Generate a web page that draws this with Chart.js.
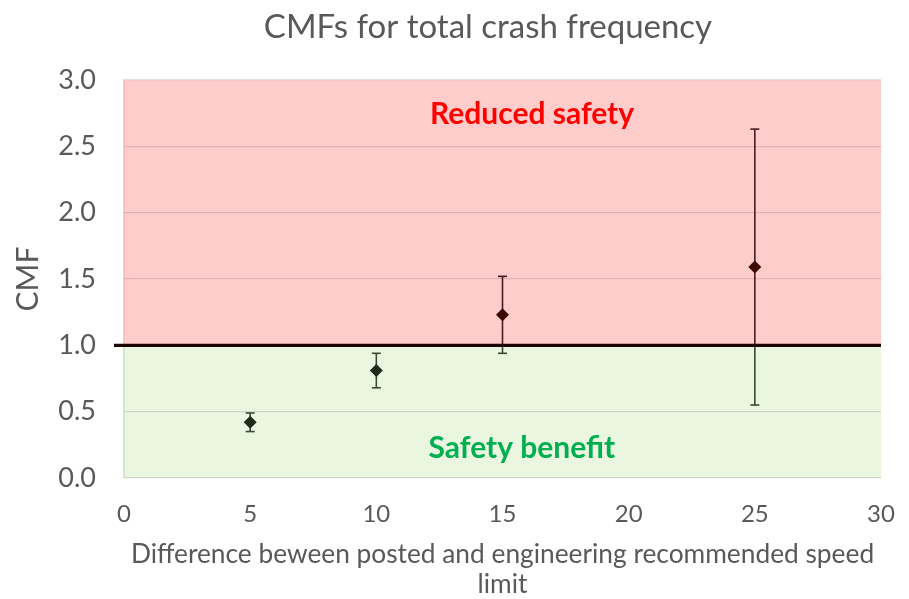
<!DOCTYPE html>
<html>
<head>
<meta charset="utf-8">
<script src="https://cdn.jsdelivr.net/npm/chart.js@4/dist/chart.umd.min.js"></script>
<style>
  html, body { margin: 0; padding: 0; background: #ffffff; }
  #wrap { width: 909px; height: 599px; }
</style>
</head>
<body>
<div id="wrap"><canvas id="c" width="909" height="599"></canvas></div>
<script>
// ---- Data ----
const speedDiff = [5, 10, 15, 25];
const cmfValues = [0.42, 0.81, 1.23, 1.59];
const lowerCI   = [0.35, 0.68, 0.94, 0.55];
const upperCI   = [0.49, 0.94, 1.52, 2.63];
const baselineCMF = 1.0;
const chartTitle = 'CMFs for total crash frequency';
const yTitle = 'CMF';
const xTitle = ['Difference beween posted and engineering recommended speed', 'limit'];
const zoneLabels = ['Reduced safety', 'Safety benefit'];

const FONT = 'Lato, "Open Sans", sans-serif';
const GREY = '#595959';
const UP_COLOR = '#3d0808';
const DOWN_COLOR = '#1f2d18';

const pointColors = cmfValues.map(v => v > baselineCMF ? UP_COLOR : DOWN_COLOR);

const zonesPlugin = {
  id: 'zones',
  beforeDraw(chart) {
    const {ctx, chartArea: a, scales: {y}} = chart;
    const yb = y.getPixelForValue(baselineCMF);
    ctx.save();
    ctx.fillStyle = '#ffcccc';
    ctx.fillRect(a.left, a.top, a.right - a.left, yb - a.top);
    ctx.fillStyle = '#ebf6e0';
    ctx.fillRect(a.left, yb, a.right - a.left, a.bottom - yb);
    ctx.restore();
  },
  beforeDatasetsDraw(chart) {
    const {ctx, chartArea: a, scales: {x, y}} = chart;
    const yb = y.getPixelForValue(baselineCMF);
    ctx.save();
    ctx.lineWidth = 1.6;
    for (let i = 0; i < speedDiff.length; i++) {
      const px = x.getPixelForValue(speedDiff[i]);
      const yl = y.getPixelForValue(lowerCI[i]);
      const yu = y.getPixelForValue(upperCI[i]);
      const segs = [];
      const top = Math.min(yu, yl), bot = Math.max(yu, yl);
      if (top < yb) segs.push([top, Math.min(bot, yb), '#4a1c1c']);
      if (bot > yb) segs.push([Math.max(top, yb), bot, '#3a4a33']);
      segs.forEach(s => {
        ctx.strokeStyle = s[2];
        ctx.beginPath(); ctx.moveTo(px, s[0]); ctx.lineTo(px, s[1]); ctx.stroke();
      });
      [[yu, upperCI[i]], [yl, lowerCI[i]]].forEach(c => {
        ctx.strokeStyle = c[1] > baselineCMF ? '#4a1c1c' : '#3a4a33';
        ctx.beginPath(); ctx.moveTo(px - 4.5, c[0]); ctx.lineTo(px + 4.5, c[0]); ctx.stroke();
      });
    }
    ctx.strokeStyle = '#1a0404';
    ctx.lineWidth = 3.2;
    ctx.beginPath();
    ctx.moveTo(a.left - 10, yb);
    ctx.lineTo(a.right, yb);
    ctx.stroke();
    ctx.restore();
  },
  afterDraw(chart) {
    const {ctx, scales: {x, y}} = chart;
    ctx.save();
    ctx.textAlign = 'center';
    ctx.textBaseline = 'middle';
    ctx.font = 'bold 30px ' + FONT;
    ctx.fillStyle = '#ff0000';
    ctx.fillText(zoneLabels[0], x.getPixelForValue(16.17), y.getPixelForValue(2.745));
    ctx.fillStyle = '#00b050';
    ctx.fillText(zoneLabels[1], x.getPixelForValue(15.77), y.getPixelForValue(0.22));
    ctx.font = '33px ' + FONT;
    ctx.fillStyle = GREY;
    ctx.fillText(chartTitle, 488, 27);
    ctx.restore();
  }
};

new Chart(document.getElementById('c'), {
  type: 'scatter',
  data: {
    datasets: [{
      label: 'CMF',
      data: speedDiff.map((v, i) => ({x: v, y: cmfValues[i]})),
      pointStyle: 'rectRot',
      pointRadius: 6.5,
      pointHoverRadius: 6.5,
      backgroundColor: pointColors,
      borderColor: pointColors,
      borderWidth: 0
    }]
  },
  options: {
    responsive: false,
    animation: false,
    devicePixelRatio: 1,
    layout: { padding: { left: 0, right: 28, top: 80, bottom: 0 } },
    plugins: {
      legend: { display: false },
      tooltip: { enabled: false },
      title: { display: false }
    },
    scales: {
      x: {
        type: 'linear',
        min: 0, max: 30,
        afterFit(s) { s.height = 121; s.paddingLeft = 0; s.paddingRight = 0; },
        ticks: { stepSize: 5, color: GREY, font: { family: FONT, size: 24 }, padding: 22, maxRotation: 0 },
        grid: { display: false, drawTicks: false },
        border: { display: false },
        title: {
          display: true, text: xTitle, color: GREY,
          font: { family: FONT, size: 26.3, lineHeight: 1.12 },
          padding: { top: 0, bottom: 0 }
        }
      },
      y: {
        min: 0, max: 3,
        afterFit(s) { s.width = 124; },
        ticks: {
          stepSize: 0.5, color: GREY, font: { family: FONT, size: 27 }, padding: 28,
          callback: v => v.toFixed(1)
        },
        grid: { color: 'rgba(0,0,0,0.12)', lineWidth: 1.3, drawTicks: false },
        border: { display: true, color: 'rgba(0,0,0,0.14)', width: 1.5 },
        title: {
          display: true, text: yTitle, color: GREY,
          font: { family: FONT, size: 30, lineHeight: 1.2 },
          padding: { top: 10, bottom: 0 }
        }
      }
    }
  },
  plugins: [zonesPlugin]
});
</script>
</body>
</html>
